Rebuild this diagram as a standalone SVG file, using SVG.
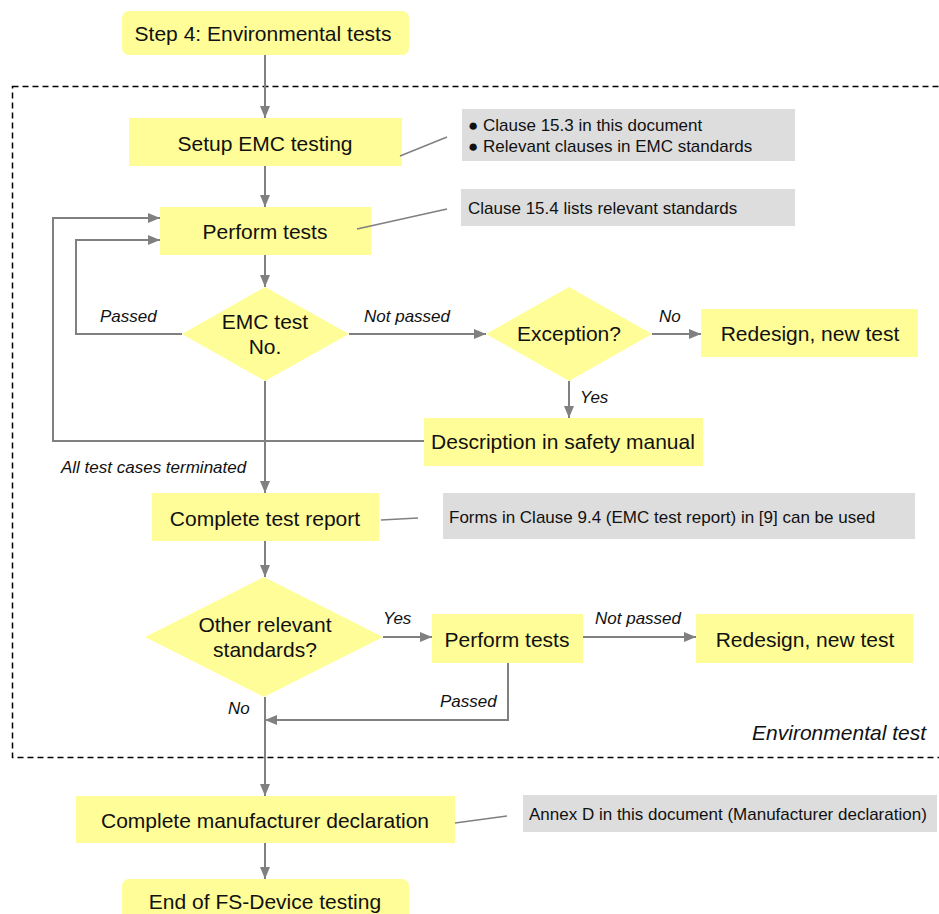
<svg xmlns="http://www.w3.org/2000/svg" width="939" height="914" viewBox="0 0 939 914">
  <defs>
    <marker id="arrow" markerUnits="userSpaceOnUse" markerWidth="12" markerHeight="10" refX="12" refY="5" orient="auto">
      <path d="M0,0 L12,5 L0,10 z" fill="#808080"/>
    </marker>
    <style>
      .node { fill: #FFFD98; }
      .note { fill: #DDDDDD; }
      .t { font-family: "Liberation Sans", Arial, sans-serif; font-size: 21px; fill: #111; text-anchor: middle; }
      .n { font-family: "Liberation Sans", Arial, sans-serif; font-size: 17px; fill: #111; }
      .lbl { font-family: "Liberation Sans", Arial, sans-serif; font-size: 17px; font-style: italic; fill: #111; }
      .conn { fill: none; stroke: #808080; stroke-width: 2; }
      .arr { marker-end: url(#arrow); }
      .lead { fill: none; stroke: #808080; stroke-width: 1.5; }
      .frame { fill: none; stroke: #000; stroke-width: 1.5; stroke-dasharray: 6 4; }
    </style>
  </defs>

  <rect width="939" height="914" fill="#FFFFFF"/>

  <!-- dashed frame around the environmental test block -->
  <g id="frame">
    <rect class="frame" x="12.5" y="86.5" width="950" height="671"/>
    <text class="lbl" x="926" y="740" text-anchor="end" style="font-size:21px">Environmental test</text>
  </g>

  <!-- connectors -->
  <g id="connectors">
    <line class="conn arr" x1="265" y1="55" x2="265" y2="118"/>
    <line class="conn arr" x1="265" y1="166" x2="265" y2="207"/>
    <line class="conn arr" x1="265" y1="255" x2="265" y2="287"/>
    <polyline class="conn arr" points="182,334 76,334 76,240 160,240"/>
    <polyline class="conn arr" points="424,441 53,441 53,218 160,218"/>
    <line class="conn arr" x1="349" y1="334" x2="486" y2="334"/>
    <line class="conn arr" x1="652" y1="334" x2="701" y2="334"/>
    <line class="conn arr" x1="569" y1="381" x2="569" y2="418"/>
    <line class="conn arr" x1="265" y1="381" x2="265" y2="493"/>
    <line class="conn arr" x1="265" y1="541" x2="265" y2="577"/>
    <line class="conn arr" x1="383" y1="637" x2="432" y2="637"/>
    <line class="conn arr" x1="583" y1="637" x2="696" y2="637"/>
    <polyline class="conn arr" points="508,663 508,720 265,720"/>
    <line class="conn arr" x1="265" y1="697" x2="265" y2="796"/>
    <line class="conn arr" x1="265" y1="843" x2="265" y2="879"/>

    <!-- connector labels -->
    <text class="lbl" x="100" y="322">Passed</text>
    <text class="lbl" x="364" y="322">Not passed</text>
    <text class="lbl" x="659" y="322">No</text>
    <text class="lbl" x="580" y="403">Yes</text>
    <text class="lbl" x="61" y="473">All test cases terminated</text>
    <text class="lbl" x="383" y="624">Yes</text>
    <text class="lbl" x="595" y="624">Not passed</text>
    <text class="lbl" x="440" y="707">Passed</text>
    <text class="lbl" x="228" y="714">No</text>
  </g>

  <g id="start">
    <rect class="node" x="122" y="11" width="287" height="44" rx="7"/>
    <text class="t" x="263" y="41">Step 4: Environmental tests</text>
  </g>

  <g id="setup">
    <rect class="node" x="129" y="118" width="273" height="48"/>
    <text class="t" x="265" y="151">Setup EMC testing</text>
  </g>

  <g id="note-setup">
    <rect class="note" x="462" y="109" width="333" height="52"/>
    <text class="n" x="468" y="131">● Clause 15.3 in this document</text>
    <text class="n" x="468" y="152">● Relevant clauses in EMC standards</text>
  </g>

  <g id="perform">
    <rect class="node" x="160" y="207" width="211" height="48"/>
    <text class="t" x="265" y="239">Perform tests</text>
  </g>

  <g id="note-perform">
    <rect class="note" x="461" y="189" width="334" height="37"/>
    <text class="n" x="468" y="214">Clause 15.4 lists relevant standards</text>
  </g>

  <g id="emc-test">
    <polygon class="node" points="265,287 349,334 265,381 182,334"/>
    <text class="t" x="265" y="329">EMC test</text>
    <text class="t" x="265" y="354">No.</text>
  </g>

  <g id="exception">
    <polygon class="node" points="569,287 652,334 569,381 486,334"/>
    <text class="t" x="569" y="341">Exception?</text>
  </g>

  <g id="redesign-1">
    <rect class="node" x="701" y="309" width="217" height="48"/>
    <text class="t" x="810" y="341">Redesign, new test</text>
  </g>

  <g id="safety-manual">
    <rect class="node" x="424" y="418" width="279" height="48"/>
    <text class="t" x="563" y="449">Description in safety manual</text>
  </g>

  <g id="test-report">
    <rect class="node" x="152" y="493" width="227" height="48"/>
    <text class="t" x="265" y="526">Complete test report</text>
  </g>

  <g id="note-report">
    <rect class="note" x="443" y="493" width="472" height="46"/>
    <text class="n" x="449" y="523">Forms in Clause 9.4 (EMC test report) in [9] can be used</text>
  </g>

  <g id="other-standards">
    <polygon class="node" points="264,577 383,637 264,697 145,637"/>
    <text class="t" x="265" y="632">Other relevant</text>
    <text class="t" x="265" y="657">standards?</text>
  </g>

  <g id="perform-2">
    <rect class="node" x="432" y="614" width="151" height="49"/>
    <text class="t" x="507" y="647">Perform tests</text>
  </g>

  <g id="redesign-2">
    <rect class="node" x="696" y="614" width="217" height="49"/>
    <text class="t" x="805" y="647">Redesign, new test</text>
  </g>

  <g id="declaration">
    <rect class="node" x="76" y="796" width="379" height="47"/>
    <text class="t" x="265" y="828">Complete manufacturer declaration</text>
  </g>

  <g id="note-declaration">
    <rect class="note" x="523" y="795" width="414" height="37"/>
    <text class="n" x="529" y="820">Annex D in this document (Manufacturer declaration)</text>
  </g>

  <g id="end">
    <rect class="node" x="122" y="879" width="287" height="50" rx="7"/>
    <text class="t" x="265" y="909">End of FS-Device testing</text>
  </g>

  <!-- leader lines from steps to their notes, drawn over the step boxes -->
  <g id="leaders">
    <line class="lead" x1="400" y1="156" x2="447" y2="137"/>
    <line class="lead" x1="357" y1="229" x2="447" y2="209"/>
    <line class="lead" x1="381" y1="520" x2="418" y2="518"/>
    <line class="lead" x1="455" y1="823" x2="507" y2="816"/>
  </g>
</svg>
